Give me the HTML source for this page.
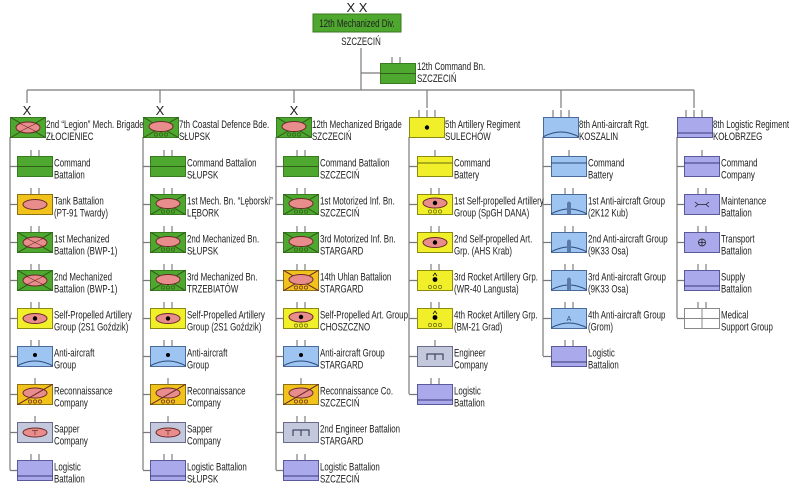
<!DOCTYPE html>
<html><head><meta charset="utf-8"><style>
html,body{margin:0;padding:0;background:#fff}
svg{display:block}
text{font-family:"Liberation Sans",sans-serif;font-size:11px;fill:#222}
.ln{stroke:#7a7a7a;stroke-width:1.2;fill:none}
.tk{stroke:#666;stroke-width:1}
</style></head><body>
<svg width="800" height="489" viewBox="0 0 800 489" xmlns="http://www.w3.org/2000/svg">
<defs>
<symbol id="G" viewBox="0 0 36 21"><rect x=".5" y=".5" width="35" height="20" fill="#4ea72e" stroke="#3a7a20"/><line x1="0" y1="10.5" x2="36" y2="10.5" stroke="#2f5f18"/></symbol>
<symbol id="MECH" viewBox="0 0 36 21"><rect x=".5" y=".5" width="35" height="20" fill="#4ea72e" stroke="#3a7a20"/><path d="M0 0L36 21M36 0L0 21" stroke="#2f5f18"/><ellipse cx="18" cy="10.5" rx="12" ry="5.5" fill="#e88c8c" stroke="#6a2a2a"/><path d="M9 6L27 15M27 6L9 15" stroke="#6a2a2a" stroke-width=".6"/></symbol>
<symbol id="MOTW" viewBox="0 0 36 21"><rect x=".5" y=".5" width="35" height="20" fill="#4ea72e" stroke="#3a7a20"/><path d="M0 0L36 21M36 0L0 21" stroke="#2f5f18"/><ellipse cx="18" cy="9.5" rx="12" ry="5" fill="#e88c8c" stroke="#6a2a2a"/><g fill="none" stroke="#2f5f18" stroke-width=".7"><circle cx="13" cy="17.5" r="1.6"/><circle cx="18" cy="17.5" r="1.6"/><circle cx="23" cy="17.5" r="1.6"/></g></symbol>
<symbol id="UHL" viewBox="0 0 36 21"><rect x=".5" y=".5" width="35" height="20" fill="#f2c21c" stroke="#8a7010"/><path d="M0 0L36 21M36 0L0 21" stroke="#6a2a2a"/><ellipse cx="18" cy="9.5" rx="12" ry="5" fill="#e88c8c" stroke="#6a2a2a"/><g fill="none" stroke="#6a2a2a" stroke-width=".7"><circle cx="13" cy="17.5" r="1.6"/><circle cx="18" cy="17.5" r="1.6"/><circle cx="23" cy="17.5" r="1.6"/></g></symbol>
<symbol id="TANK" viewBox="0 0 36 21"><rect x=".5" y=".5" width="35" height="20" fill="#f2c21c" stroke="#8a7010"/><ellipse cx="18" cy="10.5" rx="12" ry="5" fill="#e88c8c" stroke="#6a2a2a"/></symbol>
<symbol id="SPA" viewBox="0 0 36 21"><rect x=".5" y=".5" width="35" height="20" fill="#f0ef2a" stroke="#8a8a10"/><ellipse cx="18" cy="10.5" rx="12" ry="5" fill="#e88c8c" stroke="#6a2a2a"/><circle cx="18" cy="10.5" r="2.2" fill="#000"/></symbol>
<symbol id="SPAW" viewBox="0 0 36 21"><rect x=".5" y=".5" width="35" height="20" fill="#f0ef2a" stroke="#8a8a10"/><ellipse cx="18" cy="9" rx="12" ry="5" fill="#e88c8c" stroke="#6a2a2a"/><circle cx="18" cy="9" r="2.2" fill="#000"/><g fill="none" stroke="#6a6a10" stroke-width=".7"><circle cx="13" cy="17.5" r="1.6"/><circle cx="18" cy="17.5" r="1.6"/><circle cx="23" cy="17.5" r="1.6"/></g></symbol>
<symbol id="ROCK" viewBox="0 0 36 21"><rect x=".5" y=".5" width="35" height="20" fill="#f0ef2a" stroke="#8a8a10"/><path d="M16 6L18 3L20 6" fill="none" stroke="#000" stroke-width=".7"/><circle cx="18" cy="9.5" r="2.4" fill="#000"/><g fill="none" stroke="#6a6a10" stroke-width=".7"><circle cx="13" cy="17" r="1.6"/><circle cx="18" cy="17" r="1.6"/><circle cx="23" cy="17" r="1.6"/></g></symbol>
<symbol id="ART" viewBox="0 0 36 21"><rect x=".5" y=".5" width="35" height="20" fill="#f0ef2a" stroke="#8a8a10"/><circle cx="18" cy="10.5" r="2.2" fill="#000"/></symbol>
<symbol id="AA" viewBox="0 0 36 21"><rect x=".5" y=".5" width="35" height="20" fill="#9ec4f2" stroke="#4a6a9a"/><path d="M0 20Q18 10 36 20" fill="none" stroke="#2a4a7a"/><circle cx="18" cy="9" r="2" fill="#000"/></symbol>
<symbol id="AAR" viewBox="0 0 36 21"><rect x=".5" y=".5" width="35" height="20" fill="#9ec4f2" stroke="#4a6a9a"/><path d="M0 20Q18 10 36 20" fill="none" stroke="#2a4a7a"/></symbol>
<symbol id="AAG" viewBox="0 0 36 21"><rect x=".5" y=".5" width="35" height="20" fill="#9ec4f2" stroke="#4a6a9a"/><path d="M0 20Q18 10 36 20" fill="none" stroke="#2a4a7a"/><path d="M16 20V9Q18 6 20 9V20Z" fill="#5a7aa8"/></symbol>
<symbol id="AAA" viewBox="0 0 36 21"><rect x=".5" y=".5" width="35" height="20" fill="#9ec4f2" stroke="#4a6a9a"/><path d="M0 20Q18 10 36 20" fill="none" stroke="#2a4a7a"/><text x="18" y="13" text-anchor="middle" style="font-size:7px;fill:#2a4a7a">A</text></symbol>
<symbol id="CB" viewBox="0 0 36 21"><rect x=".5" y=".5" width="35" height="20" fill="#9ec4f2" stroke="#4a6a9a"/><line x1="0" y1="7" x2="36" y2="7" stroke="#2a4a7a"/></symbol>
<symbol id="CY" viewBox="0 0 36 21"><rect x=".5" y=".5" width="35" height="20" fill="#f0ef2a" stroke="#8a8a10"/><line x1="0" y1="7" x2="36" y2="7" stroke="#6a6a10"/></symbol>
<symbol id="CP" viewBox="0 0 36 21"><rect x=".5" y=".5" width="35" height="20" fill="#a9a9ec" stroke="#5a5a9a"/><line x1="0" y1="7" x2="36" y2="7" stroke="#3a3a7a"/></symbol>
<symbol id="LOG" viewBox="0 0 36 21"><rect x=".5" y=".5" width="35" height="20" fill="#a9a9ec" stroke="#5a5a9a"/><line x1="0" y1="16" x2="36" y2="16" stroke="#3a3a7a"/></symbol>
<symbol id="MNT" viewBox="0 0 36 21"><rect x=".5" y=".5" width="35" height="20" fill="#a9a9ec" stroke="#5a5a9a"/><path d="M11 8L14 10.5L11 13M25 8L22 10.5L25 13M14 10.5H22" fill="none" stroke="#222" stroke-width=".8"/></symbol>
<symbol id="TRN" viewBox="0 0 36 21"><rect x=".5" y=".5" width="35" height="20" fill="#a9a9ec" stroke="#5a5a9a"/><circle cx="18" cy="10.5" r="3.5" fill="none" stroke="#222" stroke-width=".8"/><path d="M18 7V14M14.5 10.5H21.5" stroke="#222" stroke-width=".8"/></symbol>
<symbol id="MED" viewBox="0 0 36 21"><rect x=".5" y=".5" width="35" height="20" fill="#fff" stroke="#888"/><path d="M18 0V21M0 10.5H36" stroke="#888"/></symbol>
<symbol id="REC" viewBox="0 0 36 21"><rect x=".5" y=".5" width="35" height="20" fill="#f2c21c" stroke="#8a7010"/><ellipse cx="18" cy="9" rx="12" ry="5" fill="#e88c8c" stroke="#6a2a2a"/><path d="M0 21L36 0" stroke="#6a2a2a"/><g fill="none" stroke="#6a2a2a" stroke-width=".7"><circle cx="13" cy="17.5" r="1.6"/><circle cx="18" cy="17.5" r="1.6"/><circle cx="23" cy="17.5" r="1.6"/></g></symbol>
<symbol id="SAP" viewBox="0 0 36 21"><rect x=".5" y=".5" width="35" height="20" fill="#c3c8dc" stroke="#6a6a8a"/><ellipse cx="18" cy="10.5" rx="12" ry="4.5" fill="#e88c8c" stroke="#6a2a2a"/><path d="M15 8.5H21M18 8.5V13" stroke="#6a2a2a" stroke-width=".7"/></symbol>
<symbol id="ENG" viewBox="0 0 36 21"><rect x=".5" y=".5" width="35" height="20" fill="#c3c8dc" stroke="#6a6a8a"/><path d="M10 14V8H26V14M18 8V14" fill="none" stroke="#2a2a4a"/></symbol>
</defs>

<text x="357" y="12" text-anchor="middle" style="font-size:13px">X X</text>
<rect x="313" y="14" width="88" height="18" fill="#4ea72e" stroke="#3a7a20"/>
<g transform="translate(357,27) scale(.72,1)"><text x="0" y="0" text-anchor="middle">12th Mechanized Div.</text></g>
<g transform="translate(361,45) scale(.72,1)"><text x="0" y="0" text-anchor="middle">SZCZECIŃ</text></g>
<path class="ln" d="M361 48V90M361 73H380M27 90H694M27 90V103M160 90V103M294 90V103M427 90V108M561 90V108M694 90V108"/>
<path class="tk" d="M392 57V63M400 57V63"/>
<use href="#G" x="380" y="63" width="36" height="21"/>
<g transform="translate(417,70) scale(.72,1)"><text>12th Command Bn.</text><text y="12">SZCZECIŃ</text></g>

<path class="ln" d="M10 137V470M143 137V470M276 137V470M409 137V394M543 137V356M677 137V318"/>
<path class="ln" d="M10 166.5h7M10 204.5h7M10 242.5h7M10 280.5h7M10 318.5h7M10 356.5h7M10 394.5h7M10 432.5h7M10 470.5h7
M143 166.5h7M143 204.5h7M143 242.5h7M143 280.5h7M143 318.5h7M143 356.5h7M143 394.5h7M143 432.5h7M143 470.5h7
M276 166.5h7M276 204.5h7M276 242.5h7M276 280.5h7M276 318.5h7M276 356.5h7M276 394.5h7M276 432.5h7M276 470.5h7
M409 166.5h8M409 204.5h8M409 242.5h8M409 280.5h8M409 318.5h8M409 356.5h8M409 394.5h8
M543 166.5h8M543 204.5h8M543 242.5h8M543 280.5h8M543 318.5h8M543 356.5h8
M677 166.5h7M677 204.5h7M677 242.5h7M677 280.5h7M677 318.5h7"/>

<text x="27" y="115" text-anchor="middle" style="font-size:13px">X</text>
<text x="160" y="115" text-anchor="middle" style="font-size:13px">X</text>
<text x="294" y="115" text-anchor="middle" style="font-size:13px">X</text>
<path class="tk" d="M419 110V117M427 110V117M435 110V117M553 110V117M561 110V117M569 110V117M686 110V117M694 110V117M702 110V117"/>
<use href="#MECH" x="10" y="117" width="36" height="21"/>
<use href="#MOTW" x="143" y="117" width="36" height="21"/>
<use href="#MOTW" x="276" y="117" width="36" height="21"/>
<use href="#ART" x="409" y="117" width="36" height="21"/>
<use href="#AAR" x="543" y="117" width="36" height="21"/>
<use href="#LOG" x="677" y="117" width="36" height="21"/>
<g transform="translate(46,128) scale(.72,1)"><text>2nd “Legion” Mech. Brigade</text><text y="12">ZŁOCIENIEC</text></g>
<g transform="translate(179,128) scale(.72,1)"><text>7th Coastal Defence Bde.</text><text y="12">SŁUPSK</text></g>
<g transform="translate(312,128) scale(.72,1)"><text>12th Mechanized Brigade</text><text y="12">SZCZECIŃ</text></g>
<g transform="translate(445,128) scale(.72,1)"><text>5th Artillery Regiment</text><text y="12">SULECHÓW</text></g>
<g transform="translate(579,128) scale(.72,1)"><text>8th Anti-aircraft Rgt.</text><text y="12">KOSZALIN</text></g>
<g transform="translate(713,128) scale(.72,1)"><text>8th Logistic Regiment</text><text y="12">KOŁOBRZEG</text></g>

<path class="tk" d="M31 150V156M39 150V156M31 188V194M39 188V194M31 226V232M39 226V232M31 264V270M39 264V270M31 302V308M39 302V308M31 340V346M39 340V346M35 378V384M35 416V422M31 454V460M39 454V460"/>
<use href="#G" x="17" y="156" width="36" height="21"/>
<use href="#TANK" x="17" y="194" width="36" height="21"/>
<use href="#MECH" x="17" y="232" width="36" height="21"/>
<use href="#MECH" x="17" y="270" width="36" height="21"/>
<use href="#SPA" x="17" y="308" width="36" height="21"/>
<use href="#AA" x="17" y="346" width="36" height="21"/>
<use href="#REC" x="17" y="384" width="36" height="21"/>
<use href="#SAP" x="17" y="422" width="36" height="21"/>
<use href="#LOG" x="17" y="460" width="36" height="21"/>
<g transform="translate(54,0) scale(.72,1)">
<text y="166.5">Command</text><text y="178.5">Battalion</text>
<text y="204.5">Tank Battalion</text><text y="216.5">(PT-91 Twardy)</text>
<text y="242.5">1st Mechanized</text><text y="254.5">Battalion (BWP-1)</text>
<text y="280.5">2nd Mechanized</text><text y="292.5">Battalion (BWP-1)</text>
<text y="318.5">Self-Propelled Artillery</text><text y="330.5">Group (2S1 Goździk)</text>
<text y="356.5">Anti-aircraft</text><text y="368.5">Group</text>
<text y="394.5">Reconnaissance</text><text y="406.5">Company</text>
<text y="432.5">Sapper</text><text y="444.5">Company</text>
<text y="470.5">Logistic</text><text y="482.5">Battalion</text>
</g>

<path class="tk" d="M164 150V156M172 150V156M164 188V194M172 188V194M164 226V232M172 226V232M164 264V270M172 264V270M164 302V308M172 302V308M164 340V346M172 340V346M168 378V384M168 416V422M164 454V460M172 454V460"/>
<use href="#G" x="150" y="156" width="36" height="21"/>
<use href="#MOTW" x="150" y="194" width="36" height="21"/>
<use href="#MOTW" x="150" y="232" width="36" height="21"/>
<use href="#MOTW" x="150" y="270" width="36" height="21"/>
<use href="#SPA" x="150" y="308" width="36" height="21"/>
<use href="#AA" x="150" y="346" width="36" height="21"/>
<use href="#REC" x="150" y="384" width="36" height="21"/>
<use href="#SAP" x="150" y="422" width="36" height="21"/>
<use href="#LOG" x="150" y="460" width="36" height="21"/>
<g transform="translate(187,0) scale(.72,1)">
<text y="166.5">Command Battalion</text><text y="178.5">SŁUPSK</text>
<text y="204.5">1st Mech. Bn. “Lęborski”</text><text y="216.5">LĘBORK</text>
<text y="242.5">2nd Mechanized Bn.</text><text y="254.5">SŁUPSK</text>
<text y="280.5">3rd Mechanized Bn.</text><text y="292.5">TRZEBIATÓW</text>
<text y="318.5">Self-Propelled Artillery</text><text y="330.5">Group (2S1 Goździk)</text>
<text y="356.5">Anti-aircraft</text><text y="368.5">Group</text>
<text y="394.5">Reconnaissance</text><text y="406.5">Company</text>
<text y="432.5">Sapper</text><text y="444.5">Company</text>
<text y="470.5">Logistic Battalion</text><text y="482.5">SŁUPSK</text>
</g>

<path class="tk" d="M297 150V156M305 150V156M297 188V194M305 188V194M297 226V232M305 226V232M297 264V270M305 264V270M297 302V308M305 302V308M297 340V346M305 340V346M301 378V384M297 416V422M305 416V422M297 454V460M305 454V460"/>
<use href="#G" x="283" y="156" width="36" height="21"/>
<use href="#MOTW" x="283" y="194" width="36" height="21"/>
<use href="#MOTW" x="283" y="232" width="36" height="21"/>
<use href="#UHL" x="283" y="270" width="36" height="21"/>
<use href="#SPAW" x="283" y="308" width="36" height="21"/>
<use href="#AA" x="283" y="346" width="36" height="21"/>
<use href="#REC" x="283" y="384" width="36" height="21"/>
<use href="#ENG" x="283" y="422" width="36" height="21"/>
<use href="#LOG" x="283" y="460" width="36" height="21"/>
<g transform="translate(320,0) scale(.72,1)">
<text y="166.5">Command Battalion</text><text y="178.5">SZCZECIŃ</text>
<text y="204.5">1st Motorized Inf. Bn.</text><text y="216.5">SZCZECIŃ</text>
<text y="242.5">3rd Motorized Inf. Bn.</text><text y="254.5">STARGARD</text>
<text y="280.5">14th Uhlan Battalion</text><text y="292.5">STARGARD</text>
<text y="318.5">Self-Propelled Art. Group</text><text y="330.5">CHOSZCZNO</text>
<text y="356.5">Anti-aircraft Group</text><text y="368.5">STARGARD</text>
<text y="394.5">Reconnaissance Co.</text><text y="406.5">SZCZECIŃ</text>
<text y="432.5">2nd Engineer Battalion</text><text y="444.5">STARGARD</text>
<text y="470.5">Logistic Battalion</text><text y="482.5">SZCZECIŃ</text>
</g>

<path class="tk" d="M435 150V156M431 188V194M439 188V194M431 226V232M439 226V232M431 264V270M439 264V270M431 302V308M439 302V308M435 340V346M431 378V384M439 378V384"/>
<use href="#CY" x="417" y="156" width="36" height="21"/>
<use href="#SPAW" x="417" y="194" width="36" height="21"/>
<use href="#SPA" x="417" y="232" width="36" height="21"/>
<use href="#ROCK" x="417" y="270" width="36" height="21"/>
<use href="#ROCK" x="417" y="308" width="36" height="21"/>
<use href="#ENG" x="417" y="346" width="36" height="21"/>
<use href="#LOG" x="417" y="384" width="36" height="21"/>
<g transform="translate(454,0) scale(.72,1)">
<text y="166.5">Command</text><text y="178.5">Battery</text>
<text y="204.5">1st Self-propelled Artillery</text><text y="216.5">Group (SpGH DANA)</text>
<text y="242.5">2nd Self-propelled Art.</text><text y="254.5">Grp. (AHS Krab)</text>
<text y="280.5">3rd Rocket Artillery Grp.</text><text y="292.5">(WR-40 Langusta)</text>
<text y="318.5">4th Rocket Artillery Grp.</text><text y="330.5">(BM-21 Grad)</text>
<text y="356.5">Engineer</text><text y="368.5">Company</text>
<text y="394.5">Logistic</text><text y="406.5">Battalion</text>
</g>

<path class="tk" d="M569 150V156M565 188V194M573 188V194M565 226V232M573 226V232M565 264V270M573 264V270M565 302V308M573 302V308M565 340V346M573 340V346"/>
<use href="#CB" x="551" y="156" width="36" height="21"/>
<use href="#AAG" x="551" y="194" width="36" height="21"/>
<use href="#AAG" x="551" y="232" width="36" height="21"/>
<use href="#AAG" x="551" y="270" width="36" height="21"/>
<use href="#AAA" x="551" y="308" width="36" height="21"/>
<use href="#LOG" x="551" y="346" width="36" height="21"/>
<g transform="translate(588,0) scale(.72,1)">
<text y="166.5">Command</text><text y="178.5">Battery</text>
<text y="204.5">1st Anti-aircraft Group</text><text y="216.5">(2K12 Kub)</text>
<text y="242.5">2nd Anti-aircraft Group</text><text y="254.5">(9K33 Osa)</text>
<text y="280.5">3rd Anti-aircraft Group</text><text y="292.5">(9K33 Osa)</text>
<text y="318.5">4th Anti-aircraft Group</text><text y="330.5">(Grom)</text>
<text y="356.5">Logistic</text><text y="368.5">Battalion</text>
</g>

<path class="tk" d="M702 150V156M698 188V194M706 188V194M698 226V232M706 226V232M698 264V270M706 264V270M698 302V308M706 302V308"/>
<use href="#CP" x="684" y="156" width="36" height="21"/>
<use href="#MNT" x="684" y="194" width="36" height="21"/>
<use href="#TRN" x="684" y="232" width="36" height="21"/>
<use href="#LOG" x="684" y="270" width="36" height="21"/>
<use href="#MED" x="684" y="308" width="36" height="21"/>
<g transform="translate(721,0) scale(.72,1)">
<text y="166.5">Command</text><text y="178.5">Company</text>
<text y="204.5">Maintenance</text><text y="216.5">Battalion</text>
<text y="242.5">Transport</text><text y="254.5">Battalion</text>
<text y="280.5">Supply</text><text y="292.5">Battalion</text>
<text y="318.5">Medical</text><text y="330.5">Support Group</text>
</g>
</svg>
</body></html>
